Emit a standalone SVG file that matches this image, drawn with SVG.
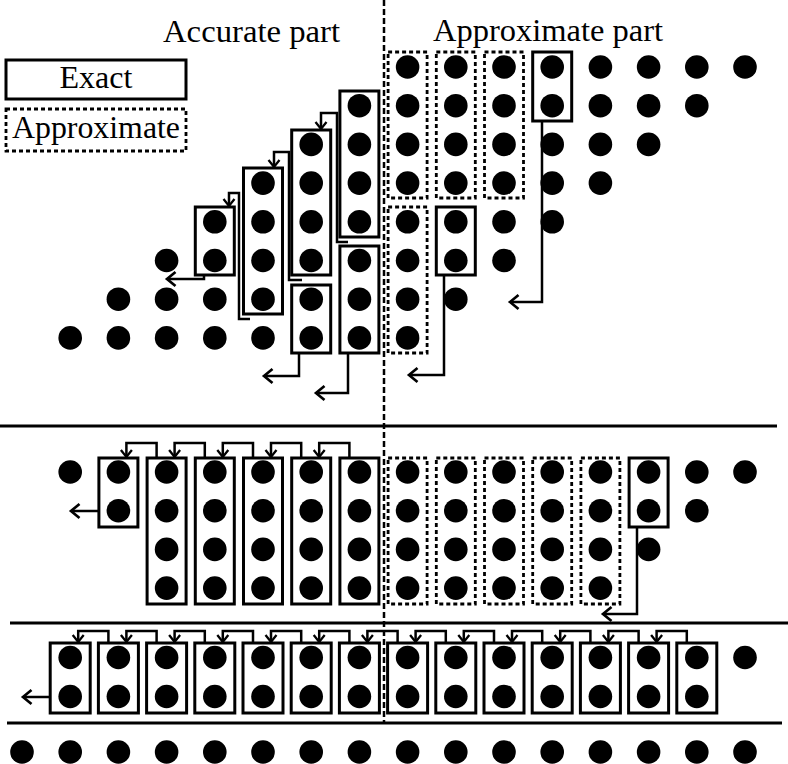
<svg xmlns="http://www.w3.org/2000/svg" width="788" height="764" viewBox="0 0 788 764">
<defs>
<style>
.d{fill:#000}
.bx{fill:none;stroke:#000;stroke-width:3}
.dx{fill:none;stroke:#000;stroke-width:2.8;stroke-dasharray:4 3}
.cr{fill:none;stroke:#000;stroke-width:2.5;marker-end:url(#sm)}
.out{fill:none;stroke:#000;stroke-width:2.5;marker-end:url(#bg)}
.rule{stroke:#000;stroke-width:3}
.t{font-family:"Liberation Serif","Times New Roman",serif;font-size:31px;fill:#000}
</style>
<marker id="bg" markerUnits="userSpaceOnUse" markerWidth="20" markerHeight="20" viewBox="-10 -10 20 20" refX="0" refY="0" orient="auto" overflow="visible">
<path d="M-8.5,-7 L0,0 L-8.5,7" fill="none" stroke="#000" stroke-width="2.7"/>
</marker>
<marker id="sm" markerUnits="userSpaceOnUse" markerWidth="16" markerHeight="16" viewBox="-8 -8 16 16" refX="0" refY="0" orient="auto" overflow="visible">
<path d="M-7,-5.5 L0,0 L-7,5.5" fill="none" stroke="#000" stroke-width="2.3"/>
</marker>
</defs>
<rect width="788" height="764" fill="#fff"/>

<g id="headings">
<text class="t" x="163" y="42" textLength="177" lengthAdjust="spacingAndGlyphs">Accurate part</text>
<text class="t" x="433" y="41" textLength="230" lengthAdjust="spacingAndGlyphs">Approximate part</text>
</g>

<g id="legend-exact">
<rect class="bx" x="6" y="60" width="180" height="39"/>
<text class="t" x="96" y="88" text-anchor="middle" textLength="73" lengthAdjust="spacingAndGlyphs">Exact</text>
</g>
<g id="legend-approx">
<rect class="dx" x="6" y="109" width="180" height="42"/>
<text class="t" x="96" y="138" text-anchor="middle" textLength="168" lengthAdjust="spacingAndGlyphs">Approximate</text>
</g>

<g id="rules">
<line class="rule" x1="0" y1="426" x2="777" y2="426"/>
<line class="rule" x1="10" y1="623" x2="788" y2="623"/>
<line class="rule" x1="7" y1="723" x2="782" y2="723"/>
<line x1="384" y1="0" x2="384" y2="722" stroke="#000" stroke-width="2.5" stroke-dasharray="6 3"/>
</g>

<g id="dots-top">
<circle class="d" cx="70.2" cy="337.9" r="11.8"/>
<circle class="d" cx="118.4" cy="299.2" r="11.8"/><circle class="d" cx="118.4" cy="337.9" r="11.8"/>
<circle class="d" cx="166.6" cy="260.5" r="11.8"/><circle class="d" cx="166.6" cy="299.2" r="11.8"/><circle class="d" cx="166.6" cy="337.9" r="11.8"/>
<circle class="d" cx="214.8" cy="221.8" r="11.8"/><circle class="d" cx="214.8" cy="260.5" r="11.8"/><circle class="d" cx="214.8" cy="299.2" r="11.8"/><circle class="d" cx="214.8" cy="337.9" r="11.8"/>
<circle class="d" cx="263" cy="183.1" r="11.8"/><circle class="d" cx="263" cy="221.8" r="11.8"/><circle class="d" cx="263" cy="260.5" r="11.8"/><circle class="d" cx="263" cy="299.2" r="11.8"/><circle class="d" cx="263" cy="337.9" r="11.8"/>
<circle class="d" cx="311.2" cy="144.4" r="11.8"/><circle class="d" cx="311.2" cy="183.1" r="11.8"/><circle class="d" cx="311.2" cy="221.8" r="11.8"/><circle class="d" cx="311.2" cy="260.5" r="11.8"/><circle class="d" cx="311.2" cy="299.2" r="11.8"/><circle class="d" cx="311.2" cy="337.9" r="11.8"/>
<circle class="d" cx="359.4" cy="105.7" r="11.8"/><circle class="d" cx="359.4" cy="144.4" r="11.8"/><circle class="d" cx="359.4" cy="183.1" r="11.8"/><circle class="d" cx="359.4" cy="221.8" r="11.8"/><circle class="d" cx="359.4" cy="260.5" r="11.8"/><circle class="d" cx="359.4" cy="299.2" r="11.8"/><circle class="d" cx="359.4" cy="337.9" r="11.8"/>
<circle class="d" cx="407.6" cy="67" r="11.8"/><circle class="d" cx="407.6" cy="105.7" r="11.8"/><circle class="d" cx="407.6" cy="144.4" r="11.8"/><circle class="d" cx="407.6" cy="183.1" r="11.8"/><circle class="d" cx="407.6" cy="221.8" r="11.8"/><circle class="d" cx="407.6" cy="260.5" r="11.8"/><circle class="d" cx="407.6" cy="299.2" r="11.8"/><circle class="d" cx="407.6" cy="337.9" r="11.8"/>
<circle class="d" cx="455.8" cy="67" r="11.8"/><circle class="d" cx="455.8" cy="105.7" r="11.8"/><circle class="d" cx="455.8" cy="144.4" r="11.8"/><circle class="d" cx="455.8" cy="183.1" r="11.8"/><circle class="d" cx="455.8" cy="221.8" r="11.8"/><circle class="d" cx="455.8" cy="260.5" r="11.8"/><circle class="d" cx="455.8" cy="299.2" r="11.8"/>
<circle class="d" cx="504" cy="67" r="11.8"/><circle class="d" cx="504" cy="105.7" r="11.8"/><circle class="d" cx="504" cy="144.4" r="11.8"/><circle class="d" cx="504" cy="183.1" r="11.8"/><circle class="d" cx="504" cy="221.8" r="11.8"/><circle class="d" cx="504" cy="260.5" r="11.8"/>
<circle class="d" cx="552.2" cy="67" r="11.8"/><circle class="d" cx="552.2" cy="105.7" r="11.8"/><circle class="d" cx="552.2" cy="144.4" r="11.8"/><circle class="d" cx="552.2" cy="183.1" r="11.8"/><circle class="d" cx="552.2" cy="221.8" r="11.8"/>
<circle class="d" cx="600.4" cy="67" r="11.8"/><circle class="d" cx="600.4" cy="105.7" r="11.8"/><circle class="d" cx="600.4" cy="144.4" r="11.8"/><circle class="d" cx="600.4" cy="183.1" r="11.8"/>
<circle class="d" cx="648.6" cy="67" r="11.8"/><circle class="d" cx="648.6" cy="105.7" r="11.8"/><circle class="d" cx="648.6" cy="144.4" r="11.8"/>
<circle class="d" cx="696.8" cy="67" r="11.8"/><circle class="d" cx="696.8" cy="105.7" r="11.8"/>
<circle class="d" cx="745" cy="67" r="11.8"/>
</g>

<g id="boxes-top">
<rect id="t-c4" class="bx" x="195.3" y="207" width="39" height="68"/>
<rect id="t-c5" class="bx" x="243.5" y="168" width="39" height="146"/>
<rect id="t-c6" class="bx" x="291.7" y="130" width="39" height="145"/>
<rect id="t-c7a" class="bx" x="339.9" y="91" width="39" height="146"/>
<rect id="t-c7b" class="bx" x="339.9" y="246" width="39" height="107"/>
<rect id="t-c6b" class="bx" x="291.7" y="285" width="39" height="68"/>
<rect id="t-c8a" class="dx" x="388.1" y="52" width="39" height="146"/>
<rect id="t-c9a" class="dx" x="436.3" y="52" width="39" height="146"/>
<rect id="t-c10a" class="dx" x="484.5" y="52" width="39" height="146"/>
<rect id="t-c8b" class="dx" x="388.1" y="207" width="39" height="146"/>
<rect id="t-c9b" class="bx" x="436.3" y="207" width="39" height="68"/>
<rect id="t-c11" class="bx" x="532.7" y="52" width="39" height="69"/>
</g>

<g id="dots-middle">
<circle class="d" cx="70.2" cy="472" r="11.8"/>
<circle class="d" cx="118.4" cy="472" r="11.8"/><circle class="d" cx="118.4" cy="510.7" r="11.8"/>
<circle class="d" cx="166.6" cy="472" r="11.8"/><circle class="d" cx="166.6" cy="510.7" r="11.8"/><circle class="d" cx="166.6" cy="549.4" r="11.8"/><circle class="d" cx="166.6" cy="588.1" r="11.8"/>
<circle class="d" cx="214.8" cy="472" r="11.8"/><circle class="d" cx="214.8" cy="510.7" r="11.8"/><circle class="d" cx="214.8" cy="549.4" r="11.8"/><circle class="d" cx="214.8" cy="588.1" r="11.8"/>
<circle class="d" cx="263" cy="472" r="11.8"/><circle class="d" cx="263" cy="510.7" r="11.8"/><circle class="d" cx="263" cy="549.4" r="11.8"/><circle class="d" cx="263" cy="588.1" r="11.8"/>
<circle class="d" cx="311.2" cy="472" r="11.8"/><circle class="d" cx="311.2" cy="510.7" r="11.8"/><circle class="d" cx="311.2" cy="549.4" r="11.8"/><circle class="d" cx="311.2" cy="588.1" r="11.8"/>
<circle class="d" cx="359.4" cy="472" r="11.8"/><circle class="d" cx="359.4" cy="510.7" r="11.8"/><circle class="d" cx="359.4" cy="549.4" r="11.8"/><circle class="d" cx="359.4" cy="588.1" r="11.8"/>
<circle class="d" cx="407.6" cy="472" r="11.8"/><circle class="d" cx="407.6" cy="510.7" r="11.8"/><circle class="d" cx="407.6" cy="549.4" r="11.8"/><circle class="d" cx="407.6" cy="588.1" r="11.8"/>
<circle class="d" cx="455.8" cy="472" r="11.8"/><circle class="d" cx="455.8" cy="510.7" r="11.8"/><circle class="d" cx="455.8" cy="549.4" r="11.8"/><circle class="d" cx="455.8" cy="588.1" r="11.8"/>
<circle class="d" cx="504" cy="472" r="11.8"/><circle class="d" cx="504" cy="510.7" r="11.8"/><circle class="d" cx="504" cy="549.4" r="11.8"/><circle class="d" cx="504" cy="588.1" r="11.8"/>
<circle class="d" cx="552.2" cy="472" r="11.8"/><circle class="d" cx="552.2" cy="510.7" r="11.8"/><circle class="d" cx="552.2" cy="549.4" r="11.8"/><circle class="d" cx="552.2" cy="588.1" r="11.8"/>
<circle class="d" cx="600.4" cy="472" r="11.8"/><circle class="d" cx="600.4" cy="510.7" r="11.8"/><circle class="d" cx="600.4" cy="549.4" r="11.8"/><circle class="d" cx="600.4" cy="588.1" r="11.8"/>
<circle class="d" cx="648.6" cy="472" r="11.8"/><circle class="d" cx="648.6" cy="510.7" r="11.8"/><circle class="d" cx="648.6" cy="549.4" r="11.8"/>
<circle class="d" cx="696.8" cy="472" r="11.8"/><circle class="d" cx="696.8" cy="510.7" r="11.8"/>
<circle class="d" cx="745" cy="472" r="11.8"/>
</g>

<g id="boxes-middle">
<rect id="m-c2" class="bx" x="98.9" y="458" width="39" height="69"/>
<rect id="m-c3" class="bx" x="147.1" y="458" width="39" height="146"/>
<rect id="m-c4" class="bx" x="195.3" y="458" width="39" height="146"/>
<rect id="m-c5" class="bx" x="243.5" y="458" width="39" height="146"/>
<rect id="m-c6" class="bx" x="291.7" y="458" width="39" height="146"/>
<rect id="m-c7" class="bx" x="339.9" y="458" width="39" height="146"/>
<rect id="m-c8" class="dx" x="388.1" y="458" width="39" height="146"/>
<rect id="m-c9" class="dx" x="436.3" y="458" width="39" height="146"/>
<rect id="m-c10" class="dx" x="484.5" y="458" width="39" height="146"/>
<rect id="m-c11" class="dx" x="532.7" y="458" width="39" height="146"/>
<rect id="m-c12" class="dx" x="580.9" y="458" width="39" height="146"/>
<rect id="m-c13" class="bx" x="629.1" y="458" width="39" height="69"/>
</g>

<g id="dots-bottom">
<circle class="d" cx="70.2" cy="657.5" r="11.8"/><circle class="d" cx="70.2" cy="696.5" r="11.8"/>
<circle class="d" cx="118.4" cy="657.5" r="11.8"/><circle class="d" cx="118.4" cy="696.5" r="11.8"/>
<circle class="d" cx="166.6" cy="657.5" r="11.8"/><circle class="d" cx="166.6" cy="696.5" r="11.8"/>
<circle class="d" cx="214.8" cy="657.5" r="11.8"/><circle class="d" cx="214.8" cy="696.5" r="11.8"/>
<circle class="d" cx="263" cy="657.5" r="11.8"/><circle class="d" cx="263" cy="696.5" r="11.8"/>
<circle class="d" cx="311.2" cy="657.5" r="11.8"/><circle class="d" cx="311.2" cy="696.5" r="11.8"/>
<circle class="d" cx="359.4" cy="657.5" r="11.8"/><circle class="d" cx="359.4" cy="696.5" r="11.8"/>
<circle class="d" cx="407.6" cy="657.5" r="11.8"/><circle class="d" cx="407.6" cy="696.5" r="11.8"/>
<circle class="d" cx="455.8" cy="657.5" r="11.8"/><circle class="d" cx="455.8" cy="696.5" r="11.8"/>
<circle class="d" cx="504" cy="657.5" r="11.8"/><circle class="d" cx="504" cy="696.5" r="11.8"/>
<circle class="d" cx="552.2" cy="657.5" r="11.8"/><circle class="d" cx="552.2" cy="696.5" r="11.8"/>
<circle class="d" cx="600.4" cy="657.5" r="11.8"/><circle class="d" cx="600.4" cy="696.5" r="11.8"/>
<circle class="d" cx="648.6" cy="657.5" r="11.8"/><circle class="d" cx="648.6" cy="696.5" r="11.8"/>
<circle class="d" cx="696.8" cy="657.5" r="11.8"/><circle class="d" cx="696.8" cy="696.5" r="11.8"/>
<circle class="d" cx="745" cy="657.5" r="11.8"/>
</g>

<g id="boxes-bottom">
<rect id="b-c1" class="bx" x="50.2" y="643" width="40" height="70"/>
<rect id="b-c2" class="bx" x="98.4" y="643" width="40" height="70"/>
<rect id="b-c3" class="bx" x="146.6" y="643" width="40" height="70"/>
<rect id="b-c4" class="bx" x="194.8" y="643" width="40" height="70"/>
<rect id="b-c5" class="bx" x="243" y="643" width="40" height="70"/>
<rect id="b-c6" class="bx" x="291.2" y="643" width="40" height="70"/>
<rect id="b-c7" class="bx" x="339.4" y="643" width="40" height="70"/>
<rect id="b-c8" class="bx" x="387.6" y="643" width="40" height="70"/>
<rect id="b-c9" class="bx" x="435.8" y="643" width="40" height="70"/>
<rect id="b-c10" class="bx" x="484" y="643" width="40" height="70"/>
<rect id="b-c11" class="bx" x="532.2" y="643" width="40" height="70"/>
<rect id="b-c12" class="bx" x="580.4" y="643" width="40" height="70"/>
<rect id="b-c13" class="bx" x="628.6" y="643" width="40" height="70"/>
<rect id="b-c14" class="bx" x="676.8" y="643" width="40" height="70"/>
</g>

<g id="dots-result">
<circle class="d" cx="22" cy="752" r="11.8"/>
<circle class="d" cx="70.2" cy="752" r="11.8"/>
<circle class="d" cx="118.4" cy="752" r="11.8"/>
<circle class="d" cx="166.6" cy="752" r="11.8"/>
<circle class="d" cx="214.8" cy="752" r="11.8"/>
<circle class="d" cx="263" cy="752" r="11.8"/>
<circle class="d" cx="311.2" cy="752" r="11.8"/>
<circle class="d" cx="359.4" cy="752" r="11.8"/>
<circle class="d" cx="407.6" cy="752" r="11.8"/>
<circle class="d" cx="455.8" cy="752" r="11.8"/>
<circle class="d" cx="504" cy="752" r="11.8"/>
<circle class="d" cx="552.2" cy="752" r="11.8"/>
<circle class="d" cx="600.4" cy="752" r="11.8"/>
<circle class="d" cx="648.6" cy="752" r="11.8"/>
<circle class="d" cx="696.8" cy="752" r="11.8"/>
<circle class="d" cx="745" cy="752" r="11.8"/>
</g>

<g id="connectors">
<path class="cr" d="M250,319 H239 V193 H229 V206"/>
<path class="cr" d="M302,280 H289 V152 H274 V167"/>
<path class="cr" d="M348,242 H337 V113 H321 V129"/>
<path class="out" d="M204,275 V279 H167"/>
<path class="out" d="M299,353 V376 H264"/>
<path class="out" d="M348,353 V393 H316"/>
<path class="out" d="M444,275 V375 H409"/>
<path class="out" d="M542,121 V302 H510"/>

<path class="cr" d="M156.6,458 V443 H126.4 V457"/>
<path class="cr" d="M204.8,458 V443 H174.6 V457"/>
<path class="cr" d="M253,458 V443 H222.8 V457"/>
<path class="cr" d="M301.2,458 V443 H271 V457"/>
<path class="cr" d="M349.4,458 V443 H319.2 V457"/>
<path class="out" d="M98.9,511 H71"/>
<path class="out" d="M637,527 V614 H603"/>

<path class="cr" d="M108.4,643 V631 H78.2 V642"/>
<path class="cr" d="M156.6,643 V631 H126.4 V642"/>
<path class="cr" d="M204.8,643 V631 H174.6 V642"/>
<path class="cr" d="M253,643 V631 H222.8 V642"/>
<path class="cr" d="M301.2,643 V631 H271 V642"/>
<path class="cr" d="M349.4,643 V631 H319.2 V642"/>
<path class="cr" d="M397.6,643 V631 H367.4 V642"/>
<path class="cr" d="M445.8,643 V631 H415.6 V642"/>
<path class="cr" d="M494,643 V631 H463.8 V642"/>
<path class="cr" d="M542.2,643 V631 H512 V642"/>
<path class="cr" d="M590.4,643 V631 H560.2 V642"/>
<path class="cr" d="M638.6,643 V631 H608.4 V642"/>
<path class="cr" d="M686.8,643 V631 H656.6 V642"/>
<path class="out" d="M50.2,697 H23"/>
</g>
</svg>
